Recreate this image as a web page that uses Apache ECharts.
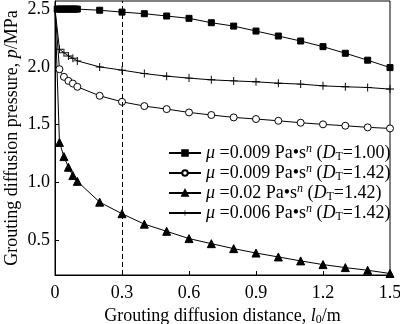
<!DOCTYPE html>
<html>
<head>
<meta charset="utf-8">
<script src="https://cdn.jsdelivr.net/npm/echarts@6/dist/echarts.min.js"></script>
<style>
  html, body { margin: 0; padding: 0; background: #fff; }
  #chart { width: 400px; height: 324px; }
</style>
</head>
<body>
<div id="chart"></div>
<script>
// Grouting diffusion distance l0 (m)
const distance = [0, 0.02, 0.04, 0.06, 0.08, 0.1, 0.2, 0.3, 0.4, 0.5, 0.6, 0.7, 0.8, 0.9, 1.0, 1.1, 1.2, 1.3, 1.4, 1.5];
const distanceDense = [0, 0.01, 0.02, 0.03, 0.04, 0.05, 0.06, 0.07, 0.08, 0.09, 0.1, 0.2, 0.3, 0.4, 0.5, 0.6, 0.7, 0.8, 0.9, 1.0, 1.1, 1.2, 1.3, 1.4, 1.5];

// Grouting diffusion pressure p (MPa)
const pMu009Dt100 = [2.5, 2.5, 2.5, 2.5, 2.5, 2.5, 2.5, 2.5, 2.5, 2.5, 2.5, 2.49, 2.474, 2.46, 2.44, 2.42, 2.382, 2.353, 2.31, 2.267, 2.224, 2.175, 2.118, 2.058, 1.994];
const pMu009Dt142 = [2.5, 1.98, 1.914, 1.879, 1.856, 1.828, 1.75, 1.698, 1.661, 1.635, 1.606, 1.584, 1.563, 1.549, 1.534, 1.517, 1.503, 1.491, 1.477, 1.468];
const pMu02Dt142 = [2.5, 1.347, 1.224, 1.132, 1.06, 1.01, 0.83, 0.73, 0.64, 0.578, 0.515, 0.471, 0.428, 0.39, 0.356, 0.322, 0.29, 0.264, 0.241, 0.213];
const pMu006Dt142 = [2.5, 2.153, 2.123, 2.095, 2.075, 2.052, 2.0, 1.972, 1.942, 1.92, 1.903, 1.888, 1.879, 1.871, 1.859, 1.851, 1.836, 1.828, 1.822, 1.808];

// Legend parameters
const viscosity = ['0.009', '0.009', '0.02', '0.006'];
const fractalDim = ['1.00', '1.42', '1.42', '1.42'];
const seriesNames = viscosity.map((m, i) => 'μ =' + m + ' Pa•sⁿ (DT=' + fractalDim[i] + ')');

// Axis ticks
const xTicks = [0, 0.3, 0.6, 0.9, 1.2, 1.5];
const yTicks = [0.5, 1.0, 1.5, 2.0, 2.5];

const FONT = '"Liberation Serif", "Times New Roman", serif';
const INK = '#000';

const plusPath = 'path://M-0.12,-1h0.24v0.88h0.88v0.24h-0.88v0.88h-0.24v-0.88h-0.88v-0.24h0.88z';

function pairs(xs, ys, hideFirst) {
  return xs.map((x, i) => (hideFirst && i === 0)
    ? { value: [x, ys[i]], symbol: 'none' }
    : [x, ys[i]]);
}

function line(name, data, symbol, size, extra) {
  return Object.assign({
    name: name,
    type: 'line',
    data: data,
    symbol: symbol,
    symbolSize: size,
    showAllSymbol: true,
    lineStyle: { color: INK, width: 1 },
    itemStyle: { color: INK, borderColor: INK, borderWidth: 1 },
    emphasis: { disabled: true },
    animation: false,
    z: 3
  }, extra || {});
}

const legendRich = {
  it: { fontFamily: FONT, fontSize: 18, fontStyle: 'italic', color: INK, lineHeight: 20 },
  r: { fontFamily: FONT, fontSize: 18, color: INK, lineHeight: 20 },
  sup: { fontFamily: FONT, fontSize: 12, fontStyle: 'italic', color: INK, lineHeight: 10, verticalAlign: 'top' },
  sub: { fontFamily: FONT, fontSize: 12, color: INK, lineHeight: 8, verticalAlign: 'bottom' }
};

const chart = echarts.init(document.getElementById('chart'), null, { renderer: 'canvas' });

chart.setOption({
  backgroundColor: '#fff',
  animation: false,
  grid: {
    left: 55, right: 10, top: 1, bottom: 49,
    containLabel: false,
    outerBoundsMode: 'none',
    show: true, borderColor: INK, borderWidth: 1, backgroundColor: 'transparent'
  },
  legend: {
    orient: 'vertical',
    left: 163,
    top: 138,
    itemWidth: 32,
    itemHeight: 7,
    itemGap: 0,
    selectedMode: false,
    data: seriesNames,
    formatter: function (name) {
      const i = seriesNames.indexOf(name);
      return '{it|μ}{r| =' + viscosity[i] + ' Pa•s}{sup|n}{r| (}{it|D}{sub|T}{r|=' + fractalDim[i] + ')}';
    },
    textStyle: { fontFamily: FONT, fontSize: 18, color: INK, rich: legendRich }
  },
  xAxis: {
    type: 'value',
    min: 0, max: 1.5, interval: 0.3,
    name: '{r|Grouting diffusion distance, }{it|l}{sub|0}{r|/m}',
    nameLocation: 'middle',
    nameGap: 31,
    nameMoveOverlap: false,
    nameTextStyle: {
      fontFamily: FONT, fontSize: 18, color: INK,
      rich: {
        r: { fontFamily: FONT, fontSize: 18, color: INK, lineHeight: 20 },
        it: { fontFamily: FONT, fontSize: 18, fontStyle: 'italic', color: INK, lineHeight: 20 },
        sub: { fontFamily: FONT, fontSize: 12, color: INK, lineHeight: 8, verticalAlign: 'bottom' }
      }
    },
    axisLine: { show: true, lineStyle: { color: INK, width: 1 } },
    axisTick: { show: true, inside: true, length: 4, lineStyle: { color: INK } },
    axisLabel: {
      fontFamily: FONT, fontSize: 18, color: INK, margin: 9,
      customValues: xTicks,
      formatter: v => (v === 0 ? '0' : v.toFixed(1))
    },
    splitLine: { show: false }
  },
  yAxis: {
    type: 'value',
    min: 0.2, max: 2.57,
    name: '{r|Grouting diffusion pressure, }{it|p}{r|/MPa}',
    nameLocation: 'middle',
    nameGap: 34,
    nameMoveOverlap: false,
    nameRotate: 90,
    nameTextStyle: {
      fontFamily: FONT, fontSize: 18, color: INK,
      rich: {
        r: { fontFamily: FONT, fontSize: 18, color: INK },
        it: { fontFamily: FONT, fontSize: 18, fontStyle: 'italic', color: INK }
      }
    },
    axisLine: { show: true, lineStyle: { color: INK, width: 1 } },
    axisTick: { show: true, inside: true, length: 4, customValues: yTicks, lineStyle: { color: INK } },
    axisLabel: {
      fontFamily: FONT, fontSize: 18, color: INK, margin: 5,
      customValues: yTicks,
      formatter: v => v.toFixed(1)
    },
    splitLine: { show: false }
  },
  series: [
    line(seriesNames[0], pairs(distanceDense, pMu009Dt100, true), 'rect', 6, {
      markLine: {
        silent: true,
        symbol: 'none',
        label: { show: false },
        lineStyle: { color: INK, type: [5, 3], width: 1 },
        data: [{ xAxis: 0.3 }]
      }
    }),
    line(seriesNames[1], pairs(distance, pMu009Dt142, true), 'circle', 7, {
      itemStyle: { color: '#fff', borderColor: INK, borderWidth: 1 }
    }),
    line(seriesNames[2], pairs(distance, pMu02Dt142, true), 'triangle', 8),
    line(seriesNames[3], pairs(distance, pMu006Dt142, true), plusPath, 8, {
      itemStyle: { color: INK, borderWidth: 0 }
    })
  ]
});
</script>
</body>
</html>
